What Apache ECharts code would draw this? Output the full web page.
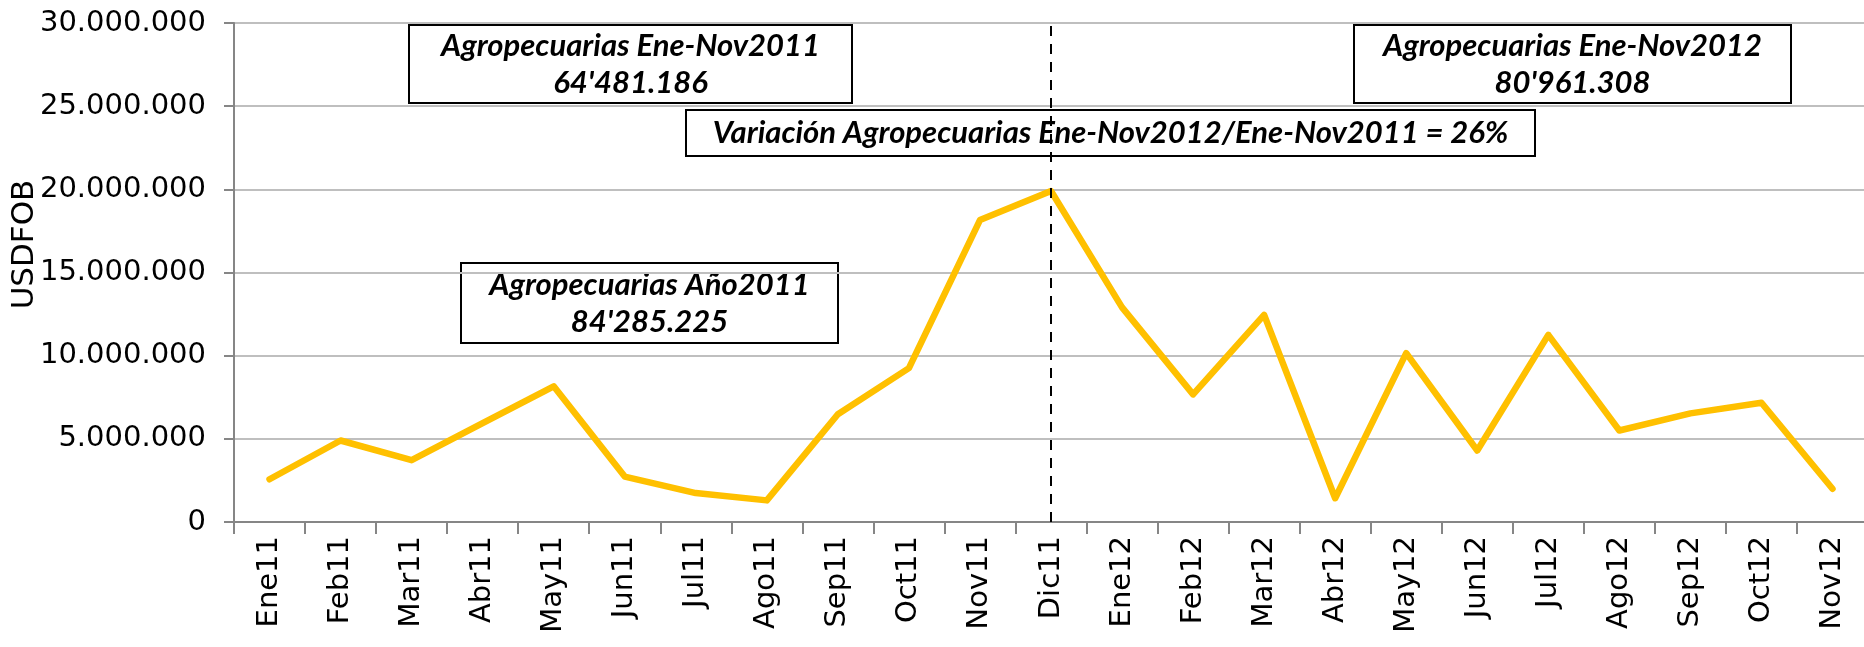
<!DOCTYPE html>
<html>
<head>
<meta charset="utf-8">
<script src="https://cdn.jsdelivr.net/npm/echarts@6/dist/echarts.min.js"></script>
<style>
html,body{margin:0;padding:0;background:#fff;}
#chart{width:1864px;height:647px;}
</style>
</head>
<body>
<div id="chart"></div>
<script>
const categories = ['Ene11','Feb11','Mar11','Abr11','May11','Jun11','Jul11','Ago11','Sep11','Oct11','Nov11','Dic11',
  'Ene12','Feb12','Mar12','Abr12','May12','Jun12','Jul12','Ago12','Sep12','Oct12','Nov12'];
const values = [2570000,4900000,3720000,5950000,8160000,2730000,1740000,1300000,6480000,9250000,18150000,19900000,
  12900000,7670000,12450000,1430000,10150000,4300000,11250000,5500000,6530000,7170000,2000000];
const yTicks = {min:0, max:30000000, interval:5000000};
const dividerCategory = 'Dic11';
const yAxisName = 'USDFOB';
const boxes = [
  {lines:['Agropecuarias Ene-Nov2011', "64'481.186"]},
  {lines:['Variación Agropecuarias Ene-Nov2012/Ene-Nov2011 = 26%']},
  {lines:['Agropecuarias Ene-Nov2012', "80'961.308"]},
  {lines:['Agropecuarias Año2011', "84'285.225"]}
];
const boxGeom = [
  {x:408, y:24, w:443, h:78},
  {x:685, y:109, w:849, h:46},
  {x:1353, y:24, w:437, h:78},
  {x:460, y:262, w:377, h:80}
];

function fmt(v){ return String(v).replace(/\B(?=(\d{3})+(?!\d))/g, '.'); }

const boxFont = 'italic bold 31px Lato';
const graphic = boxes.map((b,i)=>{
  const g = boxGeom[i];
  return {
    type:'group', left:g.x, top:g.y, z:100,
    children:[
      {type:'rect', shape:{x:0,y:0,width:g.w,height:g.h}, style:{fill:'#fff', stroke:'#000', lineWidth:2}},
      {type:'text', x:g.w/2, y:g.h/2, style:{text:b.lines.join('\n'), font:boxFont, fill:'#000', align:'center', verticalAlign:'middle', lineHeight:37}}
    ]
  };
});

const chart = echarts.init(document.getElementById('chart'));
chart.setOption({
  animation:false,
  grid:{left:234, right:-4, top:23, bottom:125, containLabel:false, outerBoundsMode:'none'},
  xAxis:{
    type:'category', data:categories, boundaryGap:true,
    axisLine:{lineStyle:{color:'#868686', width:2}},
    axisTick:{show:true, alignWithLabel:false, length:12, lineStyle:{color:'#868686', width:2}},
    axisLabel:{rotate:90, interval:0, color:'#000', fontFamily:'DejaVu Sans', fontSize:29, margin:14}
  },
  yAxis:{
    type:'value', min:yTicks.min, max:yTicks.max, interval:yTicks.interval,
    name:yAxisName, nameLocation:'middle', nameRotate:90, nameGap:194, nameMoveOverlap:false,
    nameTextStyle:{color:'#000', fontFamily:'DejaVu Sans', fontSize:31, padding:[0,0,0,56]},
    axisLine:{show:true, lineStyle:{color:'#868686', width:2}},
    axisTick:{show:true, length:10, lineStyle:{color:'#868686', width:2}},
    splitLine:{lineStyle:{color:'#BFBFBF', width:2}},
    axisLabel:{color:'#000', fontFamily:'DejaVu Sans', fontSize:29, margin:28, formatter:fmt}
  },
  series:[{
    type:'line', data:values, symbol:'none',
    lineStyle:{color:'#FFC000', width:6.5, join:'round', cap:'round'},
    markLine:{
      silent:true, symbol:['none','none'], label:{show:false},
      lineStyle:{color:'#000', type:[10,8], width:2},
      data:[{xAxis:dividerCategory}]
    }
  }],
  graphic:graphic
});
</script>
</body>
</html>
